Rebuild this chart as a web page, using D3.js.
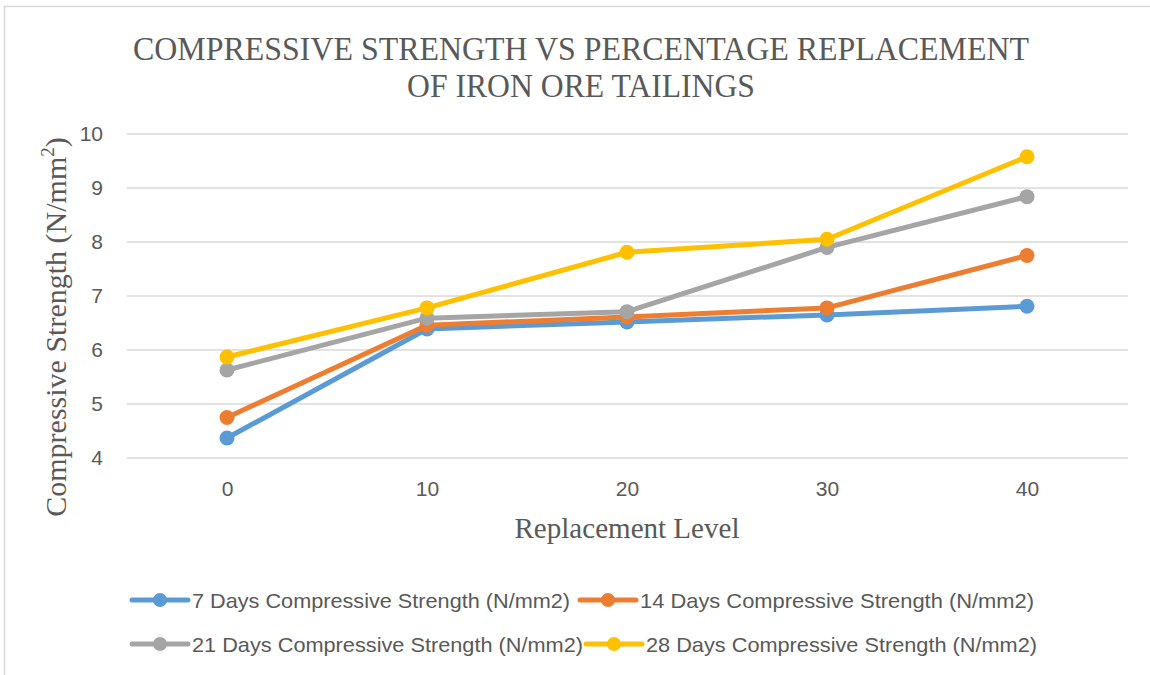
<html>
<head>
<script src="https://d3js.org/d3.v7.min.js"></script>
<style>
body { margin: 0; background: #fff; }
svg { display: block; }
</style>
</head>
<body>
<div id="chart"></div>
<script>

// data
var levels = [0, 10, 20, 30, 40];
var days7  = [4.37, 6.39, 6.52, 6.65, 6.81];
var days14 = [4.75, 6.46, 6.61, 6.78, 7.75];
var days21 = [5.63, 6.59, 6.71, 7.90, 8.84];
var days28 = [5.87, 6.78, 7.81, 8.05, 9.58];
var seriesNames = [
  "7 Days Compressive Strength (N/mm2)",
  "14 Days Compressive Strength (N/mm2)",
  "21 Days Compressive Strength (N/mm2)",
  "28 Days Compressive Strength (N/mm2)"
];
var yTicks = [4, 5, 6, 7, 8, 9, 10];
var colors = ["#5b9bd5", "#ed7d31", "#a5a5a5", "#ffc000"];

var series = [days7, days14, days21, days28].map(function(v, i) {
  return { name: seriesNames[i], color: colors[i], values: v.map(function(d, j) { return { x: levels[j], y: d }; }) };
});

var width = 1150, height = 675;
var svg = d3.select("#chart").append("svg").attr("width", width).attr("height", height);

// outer frame (cut off at right/bottom like the screenshot)
svg.append("rect").attr("x", 4.5).attr("y", 6.5).attr("width", 1200).attr("height", 700)
  .attr("fill", "none").attr("stroke", "#d9d9d9").attr("stroke-width", 1.5);

var xScale = d3.scalePoint().domain(levels).range([127, 1127]).padding(0.5);
var yScale = d3.scaleLinear().domain([4, 10]).range([458, 134]);

// title
var title = svg.append("g").attr("font-family", "'Liberation Serif', 'Times New Roman', serif")
  .attr("fill", "#595959").attr("font-size", "34px").attr("text-anchor", "middle");
title.append("text").attr("x", 581).attr("y", 60)
  .attr("textLength", 896).attr("lengthAdjust", "spacingAndGlyphs")
  .text("COMPRESSIVE STRENGTH VS PERCENTAGE REPLACEMENT");
title.append("text").attr("x", 581).attr("y", 97)
  .attr("textLength", 348).attr("lengthAdjust", "spacingAndGlyphs")
  .text("OF IRON ORE TAILINGS");

// gridlines
svg.append("g").selectAll("line").data(yTicks).enter().append("line")
  .attr("x1", 127).attr("x2", 1128)
  .attr("y1", d => yScale(d)).attr("y2", d => yScale(d))
  .attr("stroke", "#d9d9d9").attr("stroke-width", 1.5);

// y axis (labels only)
var yAxis = svg.append("g").attr("transform", "translate(127,0)")
  .call(d3.axisLeft(yScale).tickValues(yTicks).tickFormat(d3.format("d")).tickSize(0).tickPadding(24));
yAxis.select(".domain").remove();
yAxis.selectAll("text").attr("font-family", "'Liberation Sans', Arial, sans-serif")
  .attr("font-size", "21px").attr("fill", "#595959");

// x axis (labels only)
var xAxis = svg.append("g").attr("transform", "translate(0,458)")
  .call(d3.axisBottom(xScale).tickSize(0).tickPadding(23));
xAxis.select(".domain").remove();
xAxis.selectAll("text").attr("font-family", "'Liberation Sans', Arial, sans-serif")
  .attr("font-size", "21px").attr("fill", "#595959");

// axis titles
svg.append("text").attr("x", 627).attr("y", 538).attr("text-anchor", "middle")
  .attr("font-family", "'Liberation Serif', 'Times New Roman', serif")
  .attr("font-size", "30px").attr("fill", "#595959")
  .attr("textLength", 225).attr("lengthAdjust", "spacingAndGlyphs")
  .text("Replacement Level");

var yTitle = svg.append("text").attr("transform", "translate(66,327) rotate(-90)")
  .attr("text-anchor", "middle")
  .attr("font-family", "'Liberation Serif', 'Times New Roman', serif")
  .attr("font-size", "30px").attr("fill", "#595959");
yTitle.append("tspan").text("Compressive Strength (N/mm");
yTitle.append("tspan").attr("font-size", "19px").attr("dy", -12).text("2");
yTitle.append("tspan").attr("dy", 12).text(")");

// lines and markers
var line = d3.line().x(d => xScale(d.x)).y(d => yScale(d.y));
var g = svg.append("g").selectAll("g").data(series).enter().append("g");
g.append("path").attr("d", d => line(d.values))
  .attr("fill", "none").attr("stroke", d => d.color)
  .attr("stroke-width", 5).attr("stroke-linejoin", "round").attr("stroke-linecap", "round");
g.selectAll("circle").data(d => d.values.map(v => ({ x: v.x, y: v.y, color: d.color }))).enter()
  .append("circle")
  .attr("cx", d => xScale(d.x)).attr("cy", d => yScale(d.y))
  .attr("r", 7.5).attr("fill", d => d.color);

// legend
var legendPos = [[132, 600], [580, 600], [132, 644], [586, 644]];
var legendWidths = [378, 394, 391, 391];
var leg = svg.append("g").selectAll("g").data(series).enter().append("g")
  .attr("transform", (d, i) => "translate(" + legendPos[i][0] + "," + legendPos[i][1] + ")");
leg.append("line").attr("x1", 0).attr("x2", 56).attr("y1", 0).attr("y2", 0)
  .attr("stroke", d => d.color).attr("stroke-width", 5).attr("stroke-linecap", "round");
leg.append("circle").attr("cx", 28).attr("cy", 0).attr("r", 7).attr("fill", d => d.color);
leg.append("text").attr("x", 60).attr("y", 7.5)
  .attr("font-family", "'Liberation Sans', Arial, sans-serif")
  .attr("font-size", "21px").attr("fill", "#595959")
  .attr("textLength", (d, i) => legendWidths[i]).attr("lengthAdjust", "spacingAndGlyphs")
  .text(d => d.name);

</script>
</body>
</html>
